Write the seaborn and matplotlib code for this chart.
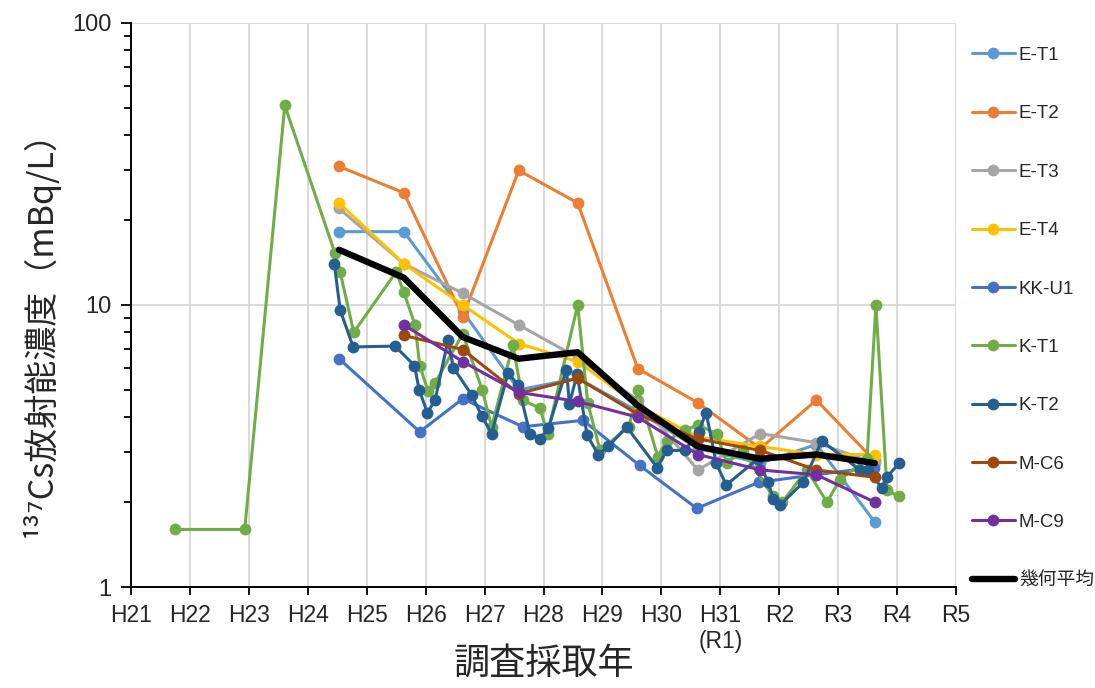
import matplotlib
matplotlib.use('Agg')
import matplotlib.pyplot as plt
from matplotlib.lines import Line2D
from matplotlib.ticker import NullFormatter
import pandas as pd
import seaborn as sns

# --- data (x: year position, H21=21 ... R5=35) ---
YEAR_TICKS = list(range(21, 36))
YEAR_LABELS = ['H21', 'H22', 'H23', 'H24', 'H25', 'H26', 'H27', 'H28', 'H29', 'H30',
               'H31\n(R1)', 'R2', 'R3', 'R4', 'R5']

SITES = ['E-T1', 'E-T2', 'E-T3', 'E-T4', 'KK-U1', 'K-T1', 'K-T2', 'M-C6', 'M-C9']
COLORS = ['#5B9BD5', '#ED7D31', '#A5A5A5', '#FFC000', '#4472C4',
          '#70AD47', '#255E91', '#9E480E', '#7030A0']

YEARLY_X = [24.53, 25.63, 26.63, 27.58, 28.58, 29.60, 30.62, 31.68, 32.63, 33.62]

ET1_v = [18.2, 18.2, 9.5, 5.0, 5.5, 4.2, 3.1, 2.75, 3.2, 1.7]
ET2_v = [31.0, 25.0, 9.1, 30.0, 23.0, 5.95, 4.5, 3.1, 4.6, 2.8]
ET3_v = [22.0, 14.0, 11.0, 8.5, 6.5, 4.6, 2.6, 3.5, 3.25, 2.75]
ET4_v = [23.0, 14.0, 10.0, 7.3, 6.3, 4.4, 3.4, 3.15, 2.95, 2.95]

KKU1_x = [24.53, 25.90, 26.63, 27.65, 28.67, 29.63, 30.60, 31.65, 32.60, 33.60]
KKU1_v = [6.45, 3.55, 4.65, 3.7, 3.9, 2.7, 1.9, 2.35, 2.5, 2.65]

MC6_x = YEARLY_X[1:]
MC6_v = [7.8, 6.95, 4.85, 5.5, 4.1, 3.35, 3.05, 2.6, 2.45]
MC9_x = YEARLY_X[1:]
MC9_v = [8.5, 6.3, 4.9, 4.55, 4.0, 2.95, 2.6, 2.5, 2.0]

KT1_x = [21.75, 22.93, 23.61, 24.46, 24.55, 24.78, 25.50, 25.63, 25.82, 25.90,
         26.04, 26.16, 26.63, 26.96, 27.12, 27.48, 27.65, 27.94, 28.07, 28.58,
         28.75, 28.96, 29.45, 29.60, 29.94, 30.09, 30.40, 30.62, 30.94, 31.11,
         31.38, 31.89, 32.05, 32.47, 32.81, 33.03, 33.49, 33.64, 33.83, 34.03]
KT1_v = [1.6, 1.6, 51.0, 15.3, 13.1, 8.0, 13.1, 11.1, 8.5, 6.1,
         4.95, 5.3, 7.9, 5.0, 3.7, 7.2, 4.6, 4.3, 3.5, 10.0,
         4.5, 3.05, 3.7, 5.0, 2.9, 3.3, 3.6, 3.75, 3.5, 2.75,
         3.05, 2.1, 2.0, 2.6, 2.0, 2.4, 2.85, 10.0, 2.2, 2.1]

KT2_x = [24.45, 24.55, 24.77, 25.48, 25.81, 25.89, 26.03, 26.16, 26.38, 26.47,
         26.78, 26.95, 27.12, 27.40, 27.57, 27.77, 27.94, 28.08, 28.39, 28.44,
         28.57, 28.74, 28.93, 29.10, 29.41, 29.93, 30.09, 30.40, 30.63, 30.76,
         30.93, 31.10, 31.64, 31.81, 31.90, 32.01, 32.41, 32.72, 33.37, 33.50,
         33.74, 33.82, 34.04]
KT2_v = [14.0, 9.6, 7.1, 7.15, 6.1, 5.0, 4.15, 4.6, 7.5, 6.0,
         4.8, 4.05, 3.5, 5.75, 5.2, 3.5, 3.35, 3.65, 5.9, 4.45,
         5.7, 3.45, 2.95, 3.15, 3.7, 2.65, 3.05, 3.05, 3.55, 4.15,
         2.75, 2.3, 2.85, 2.35, 2.05, 1.95, 2.35, 3.3, 2.6, 2.6,
         2.25, 2.45, 2.75]

MEAN_X = YEARLY_X
MEAN_V = [15.7, 12.5, 7.7, 6.45, 6.8, 4.4, 3.15, 2.85, 2.95, 2.75]
MEAN_LABEL = '幾何平均'

# --- long table for seaborn ---
series = [(YEARLY_X, ET1_v), (YEARLY_X, ET2_v), (YEARLY_X, ET3_v), (YEARLY_X, ET4_v),
          (KKU1_x, KKU1_v), (KT1_x, KT1_v), (KT2_x, KT2_v), (MC6_x, MC6_v), (MC9_x, MC9_v)]
rows = []
for name, (xs, vs) in zip(SITES, series):
    for x, v in zip(xs, vs):
        rows.append((name, x, v))
df = pd.DataFrame(rows, columns=['site', 'year', 'conc'])

sns.set_theme(style='white')
plt.rcParams['font.family'] = ['Liberation Sans', 'Noto Sans CJK JP', 'DejaVu Sans']
CJK = ['Noto Sans CJK JP', 'DejaVu Sans']

fig = plt.figure(figsize=(10.95, 6.88), dpi=100)
ax = fig.add_axes([0.1196, 0.1468, 0.7535, 0.8198])

sns.lineplot(data=df, x='year', y='conc', hue='site', hue_order=SITES,
             palette=dict(zip(SITES, COLORS)), estimator=None, sort=False,
             marker='o', markersize=8.5, markeredgewidth=0, linewidth=2.2,
             legend=False, ax=ax)
sns.lineplot(x=MEAN_X, y=MEAN_V, color='black', linewidth=4.6,
             estimator=None, sort=False, ax=ax)

ax.set_yscale('log')
ax.set_ylim(1, 100)
ax.set_xlim(21, 35)
ax.set_yticks([1, 10, 100], ['1', '10', '100'])
ax.yaxis.set_minor_formatter(NullFormatter())
ax.set_xticks(YEAR_TICKS, YEAR_LABELS)

ax.grid(True, which='major', color='#D9D9D9', linewidth=1.4)
ax.set_axisbelow(True)
for side in ['top', 'right']:
    ax.spines[side].set_visible(False)
for side in ['left', 'bottom']:
    ax.spines[side].set_color('black')
    ax.spines[side].set_linewidth(1.4)

ax.tick_params(axis='x', which='major', bottom=True, direction='out', length=6,
               width=1.3, color='black', labelsize=16.5, pad=6)
ax.tick_params(axis='y', which='both', left=True, direction='out',
               width=1.3, color='black', labelsize=17, pad=7)
ax.tick_params(axis='y', which='major', length=7)
ax.tick_params(axis='y', which='minor', length=5)

ax.set_xlabel('調査採取年', fontsize=26, family=CJK)
ax.xaxis.set_label_coords(0.5, -0.105)
ax.set_ylabel('¹³⁷Cs放射能濃度（mBq/L）', fontsize=24.5, family=CJK)
ax.yaxis.set_label_coords(-0.088, 0.4645)

handles = [Line2D([], [], color=c, marker='o', markersize=8.5, markeredgewidth=0,
                  linewidth=2.2) for c in COLORS]
handles.append(Line2D([], [], color='black', linewidth=4.6))
fig.legend(handles, SITES + [MEAN_LABEL], loc='upper left',
           bbox_to_anchor=(955 / 1095, 1 - 30 / 688), frameon=False,
           fontsize=13.5, labelspacing=2.2, handlelength=2.3, handletextpad=0.2)

fig.savefig('out.png', dpi=100)
